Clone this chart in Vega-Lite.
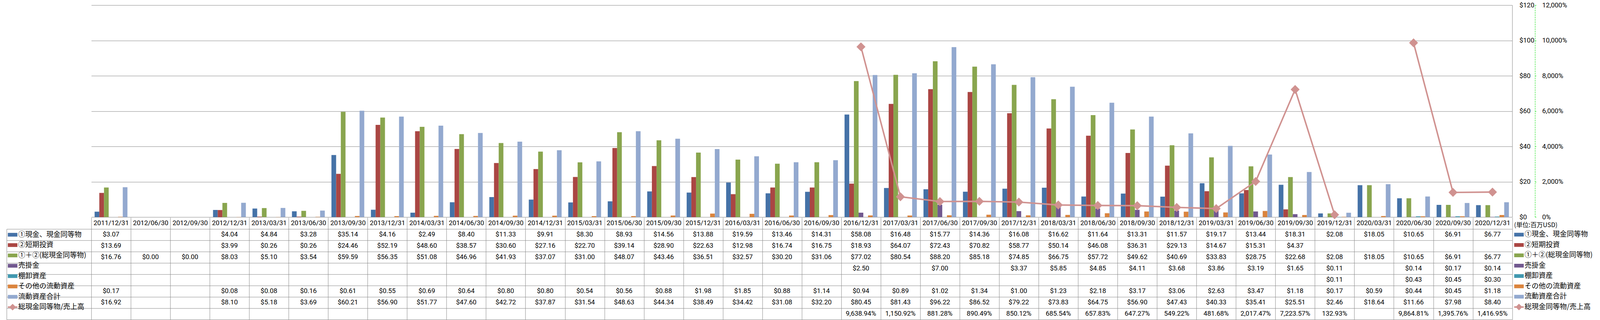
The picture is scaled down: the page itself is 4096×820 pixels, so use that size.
{
  "$schema": "https://vega.github.io/schema/vega-lite/v6.json",
  "background": "white",
  "padding": {"left": 15.7, "top": 4.2, "right": 0, "bottom": 0},
  "datasets": {
    "t": [
      {"date": "2011/12/31", "series": "①現金、現金同等物", "value": 3.07},
      {"date": "2011/12/31", "series": "②短期投資", "value": 13.69},
      {"date": "2011/12/31", "series": "①＋②(総現金同等物)", "value": 16.76},
      {"date": "2011/12/31", "series": "その他の流動資産", "value": 0.17},
      {"date": "2011/12/31", "series": "流動資産合計", "value": 16.92},
      {"date": "2012/06/30", "series": "①＋②(総現金同等物)", "value": 0},
      {"date": "2012/09/30", "series": "①＋②(総現金同等物)", "value": 0},
      {"date": "2012/12/31", "series": "①現金、現金同等物", "value": 4.04},
      {"date": "2012/12/31", "series": "②短期投資", "value": 3.99},
      {"date": "2012/12/31", "series": "①＋②(総現金同等物)", "value": 8.03},
      {"date": "2012/12/31", "series": "その他の流動資産", "value": 0.08},
      {"date": "2012/12/31", "series": "流動資産合計", "value": 8.10},
      {"date": "2013/03/31", "series": "①現金、現金同等物", "value": 4.84},
      {"date": "2013/03/31", "series": "②短期投資", "value": 0.26},
      {"date": "2013/03/31", "series": "①＋②(総現金同等物)", "value": 5.10},
      {"date": "2013/03/31", "series": "その他の流動資産", "value": 0.08},
      {"date": "2013/03/31", "series": "流動資産合計", "value": 5.18},
      {"date": "2013/06/30", "series": "①現金、現金同等物", "value": 3.28},
      {"date": "2013/06/30", "series": "②短期投資", "value": 0.26},
      {"date": "2013/06/30", "series": "①＋②(総現金同等物)", "value": 3.54},
      {"date": "2013/06/30", "series": "その他の流動資産", "value": 0.16},
      {"date": "2013/06/30", "series": "流動資産合計", "value": 3.69},
      {"date": "2013/09/30", "series": "①現金、現金同等物", "value": 35.14},
      {"date": "2013/09/30", "series": "②短期投資", "value": 24.46},
      {"date": "2013/09/30", "series": "①＋②(総現金同等物)", "value": 59.59},
      {"date": "2013/09/30", "series": "その他の流動資産", "value": 0.61},
      {"date": "2013/09/30", "series": "流動資産合計", "value": 60.21},
      {"date": "2013/12/31", "series": "①現金、現金同等物", "value": 4.16},
      {"date": "2013/12/31", "series": "②短期投資", "value": 52.19},
      {"date": "2013/12/31", "series": "①＋②(総現金同等物)", "value": 56.35},
      {"date": "2013/12/31", "series": "その他の流動資産", "value": 0.55},
      {"date": "2013/12/31", "series": "流動資産合計", "value": 56.90},
      {"date": "2014/03/31", "series": "①現金、現金同等物", "value": 2.49},
      {"date": "2014/03/31", "series": "②短期投資", "value": 48.60},
      {"date": "2014/03/31", "series": "①＋②(総現金同等物)", "value": 51.08},
      {"date": "2014/03/31", "series": "その他の流動資産", "value": 0.69},
      {"date": "2014/03/31", "series": "流動資産合計", "value": 51.77},
      {"date": "2014/06/30", "series": "①現金、現金同等物", "value": 8.40},
      {"date": "2014/06/30", "series": "②短期投資", "value": 38.57},
      {"date": "2014/06/30", "series": "①＋②(総現金同等物)", "value": 46.96},
      {"date": "2014/06/30", "series": "その他の流動資産", "value": 0.64},
      {"date": "2014/06/30", "series": "流動資産合計", "value": 47.60},
      {"date": "2014/09/30", "series": "①現金、現金同等物", "value": 11.33},
      {"date": "2014/09/30", "series": "②短期投資", "value": 30.60},
      {"date": "2014/09/30", "series": "①＋②(総現金同等物)", "value": 41.93},
      {"date": "2014/09/30", "series": "その他の流動資産", "value": 0.80},
      {"date": "2014/09/30", "series": "流動資産合計", "value": 42.72},
      {"date": "2014/12/31", "series": "①現金、現金同等物", "value": 9.91},
      {"date": "2014/12/31", "series": "②短期投資", "value": 27.16},
      {"date": "2014/12/31", "series": "①＋②(総現金同等物)", "value": 37.07},
      {"date": "2014/12/31", "series": "その他の流動資産", "value": 0.80},
      {"date": "2014/12/31", "series": "流動資産合計", "value": 37.87},
      {"date": "2015/03/31", "series": "①現金、現金同等物", "value": 8.30},
      {"date": "2015/03/31", "series": "②短期投資", "value": 22.70},
      {"date": "2015/03/31", "series": "①＋②(総現金同等物)", "value": 31.00},
      {"date": "2015/03/31", "series": "その他の流動資産", "value": 0.54},
      {"date": "2015/03/31", "series": "流動資産合計", "value": 31.54},
      {"date": "2015/06/30", "series": "①現金、現金同等物", "value": 8.93},
      {"date": "2015/06/30", "series": "②短期投資", "value": 39.14},
      {"date": "2015/06/30", "series": "①＋②(総現金同等物)", "value": 48.07},
      {"date": "2015/06/30", "series": "その他の流動資産", "value": 0.56},
      {"date": "2015/06/30", "series": "流動資産合計", "value": 48.63},
      {"date": "2015/09/30", "series": "①現金、現金同等物", "value": 14.56},
      {"date": "2015/09/30", "series": "②短期投資", "value": 28.90},
      {"date": "2015/09/30", "series": "①＋②(総現金同等物)", "value": 43.46},
      {"date": "2015/09/30", "series": "その他の流動資産", "value": 0.88},
      {"date": "2015/09/30", "series": "流動資産合計", "value": 44.34},
      {"date": "2015/12/31", "series": "①現金、現金同等物", "value": 13.88},
      {"date": "2015/12/31", "series": "②短期投資", "value": 22.63},
      {"date": "2015/12/31", "series": "①＋②(総現金同等物)", "value": 36.51},
      {"date": "2015/12/31", "series": "その他の流動資産", "value": 1.98},
      {"date": "2015/12/31", "series": "流動資産合計", "value": 38.49},
      {"date": "2016/03/31", "series": "①現金、現金同等物", "value": 19.59},
      {"date": "2016/03/31", "series": "②短期投資", "value": 12.98},
      {"date": "2016/03/31", "series": "①＋②(総現金同等物)", "value": 32.57},
      {"date": "2016/03/31", "series": "その他の流動資産", "value": 1.85},
      {"date": "2016/03/31", "series": "流動資産合計", "value": 34.42},
      {"date": "2016/06/30", "series": "①現金、現金同等物", "value": 13.46},
      {"date": "2016/06/30", "series": "②短期投資", "value": 16.74},
      {"date": "2016/06/30", "series": "①＋②(総現金同等物)", "value": 30.20},
      {"date": "2016/06/30", "series": "その他の流動資産", "value": 0.88},
      {"date": "2016/06/30", "series": "流動資産合計", "value": 31.08},
      {"date": "2016/09/30", "series": "①現金、現金同等物", "value": 14.31},
      {"date": "2016/09/30", "series": "②短期投資", "value": 16.75},
      {"date": "2016/09/30", "series": "①＋②(総現金同等物)", "value": 31.06},
      {"date": "2016/09/30", "series": "その他の流動資産", "value": 1.14},
      {"date": "2016/09/30", "series": "流動資産合計", "value": 32.20},
      {"date": "2016/12/31", "series": "①現金、現金同等物", "value": 58.08},
      {"date": "2016/12/31", "series": "②短期投資", "value": 18.93},
      {"date": "2016/12/31", "series": "①＋②(総現金同等物)", "value": 77.02},
      {"date": "2016/12/31", "series": "売掛金", "value": 2.50},
      {"date": "2016/12/31", "series": "その他の流動資産", "value": 0.94},
      {"date": "2016/12/31", "series": "流動資産合計", "value": 80.45},
      {"date": "2016/12/31", "series": "総現金同等物/売上高", "value": 96.3894},
      {"date": "2017/03/31", "series": "①現金、現金同等物", "value": 16.48},
      {"date": "2017/03/31", "series": "②短期投資", "value": 64.07},
      {"date": "2017/03/31", "series": "①＋②(総現金同等物)", "value": 80.54},
      {"date": "2017/03/31", "series": "その他の流動資産", "value": 0.89},
      {"date": "2017/03/31", "series": "流動資産合計", "value": 81.43},
      {"date": "2017/03/31", "series": "総現金同等物/売上高", "value": 11.5092},
      {"date": "2017/06/30", "series": "①現金、現金同等物", "value": 15.77},
      {"date": "2017/06/30", "series": "②短期投資", "value": 72.43},
      {"date": "2017/06/30", "series": "①＋②(総現金同等物)", "value": 88.20},
      {"date": "2017/06/30", "series": "売掛金", "value": 7.00},
      {"date": "2017/06/30", "series": "その他の流動資産", "value": 1.02},
      {"date": "2017/06/30", "series": "流動資産合計", "value": 96.22},
      {"date": "2017/06/30", "series": "総現金同等物/売上高", "value": 8.8128},
      {"date": "2017/09/30", "series": "①現金、現金同等物", "value": 14.36},
      {"date": "2017/09/30", "series": "②短期投資", "value": 70.82},
      {"date": "2017/09/30", "series": "①＋②(総現金同等物)", "value": 85.18},
      {"date": "2017/09/30", "series": "その他の流動資産", "value": 1.34},
      {"date": "2017/09/30", "series": "流動資産合計", "value": 86.52},
      {"date": "2017/09/30", "series": "総現金同等物/売上高", "value": 8.9049},
      {"date": "2017/12/31", "series": "①現金、現金同等物", "value": 16.08},
      {"date": "2017/12/31", "series": "②短期投資", "value": 58.77},
      {"date": "2017/12/31", "series": "①＋②(総現金同等物)", "value": 74.85},
      {"date": "2017/12/31", "series": "売掛金", "value": 3.37},
      {"date": "2017/12/31", "series": "その他の流動資産", "value": 1.00},
      {"date": "2017/12/31", "series": "流動資産合計", "value": 79.22},
      {"date": "2017/12/31", "series": "総現金同等物/売上高", "value": 8.5012},
      {"date": "2018/03/31", "series": "①現金、現金同等物", "value": 16.62},
      {"date": "2018/03/31", "series": "②短期投資", "value": 50.14},
      {"date": "2018/03/31", "series": "①＋②(総現金同等物)", "value": 66.75},
      {"date": "2018/03/31", "series": "売掛金", "value": 5.85},
      {"date": "2018/03/31", "series": "その他の流動資産", "value": 1.23},
      {"date": "2018/03/31", "series": "流動資産合計", "value": 73.83},
      {"date": "2018/03/31", "series": "総現金同等物/売上高", "value": 6.8554},
      {"date": "2018/06/30", "series": "①現金、現金同等物", "value": 11.64},
      {"date": "2018/06/30", "series": "②短期投資", "value": 46.08},
      {"date": "2018/06/30", "series": "①＋②(総現金同等物)", "value": 57.72},
      {"date": "2018/06/30", "series": "売掛金", "value": 4.85},
      {"date": "2018/06/30", "series": "その他の流動資産", "value": 2.18},
      {"date": "2018/06/30", "series": "流動資産合計", "value": 64.75},
      {"date": "2018/06/30", "series": "総現金同等物/売上高", "value": 6.5783},
      {"date": "2018/09/30", "series": "①現金、現金同等物", "value": 13.31},
      {"date": "2018/09/30", "series": "②短期投資", "value": 36.31},
      {"date": "2018/09/30", "series": "①＋②(総現金同等物)", "value": 49.62},
      {"date": "2018/09/30", "series": "売掛金", "value": 4.11},
      {"date": "2018/09/30", "series": "その他の流動資産", "value": 3.17},
      {"date": "2018/09/30", "series": "流動資産合計", "value": 56.90},
      {"date": "2018/09/30", "series": "総現金同等物/売上高", "value": 6.4727},
      {"date": "2018/12/31", "series": "①現金、現金同等物", "value": 11.57},
      {"date": "2018/12/31", "series": "②短期投資", "value": 29.13},
      {"date": "2018/12/31", "series": "①＋②(総現金同等物)", "value": 40.69},
      {"date": "2018/12/31", "series": "売掛金", "value": 3.68},
      {"date": "2018/12/31", "series": "その他の流動資産", "value": 3.06},
      {"date": "2018/12/31", "series": "流動資産合計", "value": 47.43},
      {"date": "2018/12/31", "series": "総現金同等物/売上高", "value": 5.4922},
      {"date": "2019/03/31", "series": "①現金、現金同等物", "value": 19.17},
      {"date": "2019/03/31", "series": "②短期投資", "value": 14.67},
      {"date": "2019/03/31", "series": "①＋②(総現金同等物)", "value": 33.83},
      {"date": "2019/03/31", "series": "売掛金", "value": 3.86},
      {"date": "2019/03/31", "series": "その他の流動資産", "value": 2.63},
      {"date": "2019/03/31", "series": "流動資産合計", "value": 40.33},
      {"date": "2019/03/31", "series": "総現金同等物/売上高", "value": 4.8168},
      {"date": "2019/06/30", "series": "①現金、現金同等物", "value": 13.44},
      {"date": "2019/06/30", "series": "②短期投資", "value": 15.31},
      {"date": "2019/06/30", "series": "①＋②(総現金同等物)", "value": 28.75},
      {"date": "2019/06/30", "series": "売掛金", "value": 3.19},
      {"date": "2019/06/30", "series": "その他の流動資産", "value": 3.47},
      {"date": "2019/06/30", "series": "流動資産合計", "value": 35.41},
      {"date": "2019/06/30", "series": "総現金同等物/売上高", "value": 20.1747},
      {"date": "2019/09/30", "series": "①現金、現金同等物", "value": 18.31},
      {"date": "2019/09/30", "series": "②短期投資", "value": 4.37},
      {"date": "2019/09/30", "series": "①＋②(総現金同等物)", "value": 22.68},
      {"date": "2019/09/30", "series": "売掛金", "value": 1.65},
      {"date": "2019/09/30", "series": "その他の流動資産", "value": 1.18},
      {"date": "2019/09/30", "series": "流動資産合計", "value": 25.51},
      {"date": "2019/09/30", "series": "総現金同等物/売上高", "value": 72.2357},
      {"date": "2019/12/31", "series": "①現金、現金同等物", "value": 2.08},
      {"date": "2019/12/31", "series": "①＋②(総現金同等物)", "value": 2.08},
      {"date": "2019/12/31", "series": "売掛金", "value": 0.11},
      {"date": "2019/12/31", "series": "棚卸資産", "value": 0.11},
      {"date": "2019/12/31", "series": "その他の流動資産", "value": 0.17},
      {"date": "2019/12/31", "series": "流動資産合計", "value": 2.46},
      {"date": "2019/12/31", "series": "総現金同等物/売上高", "value": 1.3293},
      {"date": "2020/03/31", "series": "①現金、現金同等物", "value": 18.05},
      {"date": "2020/03/31", "series": "①＋②(総現金同等物)", "value": 18.05},
      {"date": "2020/03/31", "series": "その他の流動資産", "value": 0.59},
      {"date": "2020/03/31", "series": "流動資産合計", "value": 18.64},
      {"date": "2020/03/31", "series": "総現金同等物/売上高", "value": null},
      {"date": "2020/06/30", "series": "①現金、現金同等物", "value": 10.65},
      {"date": "2020/06/30", "series": "①＋②(総現金同等物)", "value": 10.65},
      {"date": "2020/06/30", "series": "売掛金", "value": 0.14},
      {"date": "2020/06/30", "series": "棚卸資産", "value": 0.43},
      {"date": "2020/06/30", "series": "その他の流動資産", "value": 0.44},
      {"date": "2020/06/30", "series": "流動資産合計", "value": 11.66},
      {"date": "2020/06/30", "series": "総現金同等物/売上高", "value": 98.6481},
      {"date": "2020/09/30", "series": "①現金、現金同等物", "value": 6.91},
      {"date": "2020/09/30", "series": "①＋②(総現金同等物)", "value": 6.91},
      {"date": "2020/09/30", "series": "売掛金", "value": 0.17},
      {"date": "2020/09/30", "series": "棚卸資産", "value": 0.45},
      {"date": "2020/09/30", "series": "その他の流動資産", "value": 0.45},
      {"date": "2020/09/30", "series": "流動資産合計", "value": 7.98},
      {"date": "2020/09/30", "series": "総現金同等物/売上高", "value": 13.9576},
      {"date": "2020/12/31", "series": "①現金、現金同等物", "value": 6.77},
      {"date": "2020/12/31", "series": "①＋②(総現金同等物)", "value": 6.77},
      {"date": "2020/12/31", "series": "売掛金", "value": 0.14},
      {"date": "2020/12/31", "series": "棚卸資産", "value": 0.30},
      {"date": "2020/12/31", "series": "その他の流動資産", "value": 1.18},
      {"date": "2020/12/31", "series": "流動資産合計", "value": 8.40},
      {"date": "2020/12/31", "series": "総現金同等物/売上高", "value": 14.1695}
    ]
  },
  "vconcat": [
    {
      "width": 3637.6,
      "height": 543.1,
      "data": {"name": "t"},
      "layer": [
        {
          "transform": [{"filter": "datum.series !== '総現金同等物/売上高'"}],
          "mark": {"type": "bar"},
          "encoding": {
            "x": {"field": "date", "type": "nominal", "scale": {"type": "band", "domain": ["2011/12/31","2012/06/30","2012/09/30","2012/12/31","2013/03/31","2013/06/30","2013/09/30","2013/12/31","2014/03/31","2014/06/30","2014/09/30","2014/12/31","2015/03/31","2015/06/30","2015/09/30","2015/12/31","2016/03/31","2016/06/30","2016/09/30","2016/12/31","2017/03/31","2017/06/30","2017/09/30","2017/12/31","2018/03/31","2018/06/30","2018/09/30","2018/12/31","2019/03/31","2019/06/30","2019/09/30","2019/12/31","2020/03/31","2020/06/30","2020/09/30","2020/12/31"], "paddingInner": 0, "paddingOuter": 0}, "axis": null},
            "xOffset": {"field": "series", "type": "nominal", "scale": {"domain": ["①現金、現金同等物","②短期投資","①＋②(総現金同等物)","売掛金","棚卸資産","その他の流動資産","流動資産合計"], "paddingInner": 0, "paddingOuter": 0.708}},
            "y": {"field": "value", "type": "quantitative", "scale": {"domain": [0, 120], "nice": false},
              "axis": {"orient": "right", "title": null, "values": [0, 20, 40, 60, 80, 100, 120], "format": "$.0f", "labelFont": "Roboto", "labelFontSize": 17, "labelColor": "#000000", "labelPadding": 18, "labelAlign": "left", "ticks": false, "domain": true, "domainColor": "#868686", "domainWidth": 1, "grid": true, "gridColor": "#868686", "gridOpacity": 1, "gridWidth": 1}},
            "color": {"field": "series", "type": "nominal",
              "scale": {"domain": ["①現金、現金同等物","②短期投資","①＋②(総現金同等物)","売掛金","棚卸資産","その他の流動資産","流動資産合計","総現金同等物/売上高"], "range": ["#4572A7","#AA4643","#89A54E","#71588F","#4198AF","#DB843D","#93A9CF","#D09290"]},
              "legend": {"orient": "none", "legendX": 3642.4, "legendY": 556.1, "title": "(単位:百万USD)", "titleFont": "Noto Sans CJK JP", "titleFontSize": 16, "titleFontWeight": "normal", "titleColor": "#000000", "titlePadding": 3.5, "labelFont": "Noto Sans CJK JP", "labelFontSize": 18, "labelColor": "#000000", "labelLimit": 400, "labelOffset": 2, "symbolSize": 600, "rowPadding": 4.5,
                "encode": {"symbols": {"update": {"shape": {"signal": "datum.value === '総現金同等物/売上高' ? 'M-1,-0.16H1V0.16H-1Z M0,-0.7L0.7,0L0,0.7L-0.7,0Z' : 'M-1,-0.39H1V0.39H-1Z'"}, "opacity": {"value": 1}, "strokeWidth": {"value": 0}}}}}}
          }
        },
        {
          "transform": [{"filter": "datum.series === '総現金同等物/売上高'"}],
          "layer": [
            {
              "mark": {"type": "line", "color": "#D09290", "strokeWidth": 3.8, "invalid": "break-paths-show-domains"},
              "encoding": {
                "x": {"field": "date", "type": "nominal"},
                "y": {"field": "value", "type": "quantitative", "scale": {"domain": [0, 120], "nice": false},
                  "axis": {"orient": "right", "title": null, "offset": 58.3, "values": [0, 20, 40, 60, 80, 100, 120], "format": ",.0%", "labelFont": "Roboto", "labelFontSize": 17, "labelColor": "#000000", "labelPadding": 15, "labelAlign": "left", "ticks": true, "tickSize": 3, "tickColor": "#00DD00", "domain": true, "domainColor": "#00DD00", "domainDash": [4, 2], "domainWidth": 1, "grid": false}}
              }
            },
            {
              "transform": [{"filter": "isValid(datum.value)"}],
              "mark": {"type": "point", "shape": "diamond", "size": 529, "filled": true, "color": "#D09290", "opacity": 1},
              "encoding": {
                "x": {"field": "date", "type": "nominal"},
                "y": {"field": "value", "type": "quantitative"}
              }
            }
          ]
        }
      ],
      "resolve": {"scale": {"y": "independent"}}
    },
    {
      "width": 3637.6,
      "height": 232.1,
      "data": {"name": "t"},
      "layer": [
        {
          "transform": [{"filter": "datum.series !== '総現金同等物/売上高'"}],
          "mark": {"type": "text", "font": "Roboto", "fontSize": 17, "color": "#000000", "align": "center", "baseline": "middle"},
          "encoding": {
            "x": {"field": "date", "type": "nominal", "scale": {"type": "band", "domain": ["2011/12/31","2012/06/30","2012/09/30","2012/12/31","2013/03/31","2013/06/30","2013/09/30","2013/12/31","2014/03/31","2014/06/30","2014/09/30","2014/12/31","2015/03/31","2015/06/30","2015/09/30","2015/12/31","2016/03/31","2016/06/30","2016/09/30","2016/12/31","2017/03/31","2017/06/30","2017/09/30","2017/12/31","2018/03/31","2018/06/30","2018/09/30","2018/12/31","2019/03/31","2019/06/30","2019/09/30","2019/12/31","2020/03/31","2020/06/30","2020/09/30","2020/12/31"], "paddingInner": 0, "paddingOuter": 0},
              "axis": {"orient": "top", "title": null, "labelAngle": 0, "labelFont": "Roboto", "labelFontSize": 17, "labelColor": "#000000", "labelBaseline": "middle", "labelPadding": -14.8, "labelOverlap": false, "tickBand": "extent", "ticks": true, "tickSize": 29.6, "tickColor": "#898989", "tickWidth": 1, "domain": false, "grid": true, "gridColor": "#898989", "gridOpacity": 1, "gridWidth": 1}},
            "y": {"field": "series", "type": "nominal", "scale": {"type": "band", "domain": ["①現金、現金同等物","②短期投資","①＋②(総現金同等物)","売掛金","棚卸資産","その他の流動資産","流動資産合計","総現金同等物/売上高"], "paddingInner": 0, "paddingOuter": 0},
              "axis": {"orient": "left", "title": null, "labels": false, "offset": 216.8, "tickBand": "extent", "ticks": true, "tickSize": -3854.4, "tickColor": "#898989", "tickWidth": 1, "domain": true, "domainColor": "#898989", "domainWidth": 1, "grid": false}},
            "text": {"field": "value", "type": "quantitative", "format": "$,.2f"}
          }
        },
        {
          "transform": [{"filter": "datum.series === '総現金同等物/売上高' && isValid(datum.value)"}],
          "mark": {"type": "text", "font": "Roboto", "fontSize": 17, "color": "#000000", "align": "center", "baseline": "middle"},
          "encoding": {
            "x": {"field": "date", "type": "nominal"},
            "y": {"field": "series", "type": "nominal"},
            "text": {"field": "value", "type": "quantitative", "format": ",.2%"}
          }
        },
        {
          "mark": {"type": "point", "filled": true, "opacity": 0},
          "encoding": {
            "color": {"field": "series", "type": "nominal",
              "scale": {"domain": ["①現金、現金同等物","②短期投資","①＋②(総現金同等物)","売掛金","棚卸資産","その他の流動資産","流動資産合計","総現金同等物/売上高"], "range": ["#4572A7","#AA4643","#89A54E","#71588F","#4198AF","#DB843D","#93A9CF","#D09290"]},
              "legend": {"orient": "none", "legendX": -213.9, "legendY": 2.25, "title": null, "labelFont": "Noto Sans CJK JP", "labelFontSize": 18, "labelColor": "#000000", "labelLimit": 400, "labelOffset": 2, "symbolSize": 600, "rowPadding": 4.5,
                "encode": {"symbols": {"update": {"shape": {"signal": "datum.value === '総現金同等物/売上高' ? 'M-1,-0.16H1V0.16H-1Z M0,-0.7L0.7,0L0,0.7L-0.7,0Z' : 'M-1,-0.39H1V0.39H-1Z'"}, "opacity": {"value": 1}, "strokeWidth": {"value": 0}}}}}}
          }
        }
      ]
    }
  ],
  "spacing": 29.6,
  "bounds": "flush",
  "resolve": {"scale": {"color": "shared", "x": "independent", "y": "independent"}, "legend": {"color": "independent"}},
  "config": {
    "view": {"stroke": null},
    "font": "Roboto",
    "axis": {"labelFont": "Roboto", "labelFontSize": 17, "labelColor": "#000000"}
  }
}
